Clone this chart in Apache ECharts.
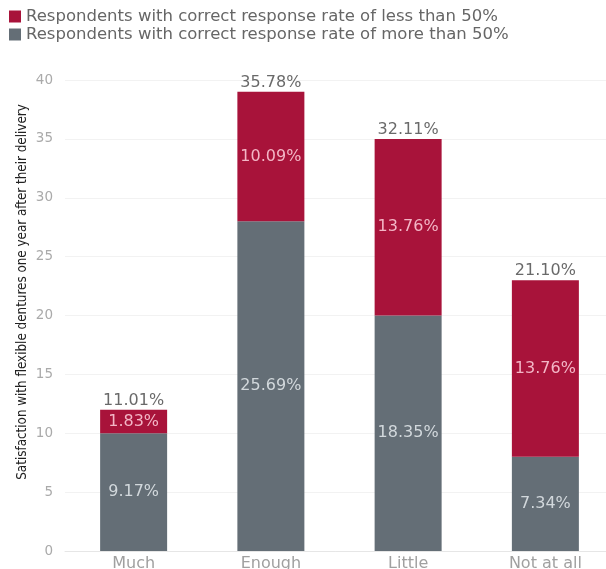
<!DOCTYPE html>
<html>
<head>
<meta charset="utf-8">
<script src="https://cdn.jsdelivr.net/npm/echarts@6/dist/echarts.min.js"></script>
<style>html,body{margin:0;padding:0;background:#fff}#c{width:606px;height:569px}</style>
</head>
<body>
<div id="c"></div>
<script>
const categories = ['Much', 'Enough', 'Little', 'Not at all'];
const lowCounts = [2, 11, 15, 15];
const highCounts = [10, 28, 20, 8];
const lowPct = ['1.83%', '10.09%', '13.76%', '13.76%'];
const highPct = ['9.17%', '25.69%', '18.35%', '7.34%'];
const totalPct = ['11.01%', '35.78%', '32.11%', '21.10%'];
const yTicks = [0, 5, 10, 15, 20, 25, 30, 35, 40];
const seriesNames = ['Respondents with correct response rate of less than 50%', 'Respondents with correct response rate of more than 50%'];
const yTitle = 'Satisfaction with flexible dentures one year after their delivery';

const totals = lowCounts.map((v, i) => v + highCounts[i]);
const font = 'DejaVu Sans';
const lblSize = 16;
const chart = echarts.init(document.getElementById('c'));
chart.setOption({
  animation: false,
  legend: {
    data: [seriesNames[0], seriesNames[1]],
    orient: 'vertical', left: 4, top: 3, itemGap: 1,
    itemWidth: 12, itemHeight: 12, icon: 'rect',
    textStyle: { fontFamily: font, fontSize: 16.5, color: '#666' }
  },
  graphic: [{
    type: 'text', x: 23, y: 292, rotation: Math.PI / 2,
    style: { text: yTitle, fontFamily: 'DejaVu Sans Condensed', fontSize: 13.3, fill: '#222',
      textAlign: 'center', textVerticalAlign: 'middle' }
  }],
  grid: { left: 65, width: 549, top: 80, bottom: 18, containLabel: false, outerBoundsMode: 'none' },
  xAxis: {
    type: 'category', data: categories,
    axisLine: { lineStyle: { color: '#e6e6e6' } },
    axisTick: { show: false },
    axisLabel: { fontFamily: font, fontSize: 16, color: '#a0a0a0', margin: 5 }
  },
  yAxis: {
    type: 'value', min: yTicks[0], max: yTicks[yTicks.length - 1], interval: 5,
    axisLine: { show: false }, axisTick: { show: false },
    axisLabel: { fontFamily: font, fontSize: 13.5, color: '#aaa', margin: 12 },
    splitLine: { lineStyle: { color: '#f2f2f2' } }
  },
  series: [
    {
      name: seriesNames[1], type: 'bar', stack: 's', barWidth: 67,
      data: highCounts, itemStyle: { color: '#646E76' },
      label: { show: true, position: 'inside', fontFamily: font, fontSize: lblSize, color: '#d2d8dc',
        formatter: p => highPct[p.dataIndex] }
    },
    {
      name: seriesNames[0], type: 'bar', stack: 's', barWidth: 67,
      data: lowCounts, itemStyle: { color: '#A8133A' },
      label: { show: true, position: 'inside', fontFamily: font, fontSize: lblSize, color: '#f3b6c6',
        formatter: p => lowPct[p.dataIndex] }
    },
    {
      name: 'total', type: 'scatter', data: totals, symbolSize: 0, silent: true,
      label: { show: true, position: 'top', distance: 1, fontFamily: font, fontSize: lblSize, color: '#444',
        formatter: p => totalPct[p.dataIndex] }
    }
  ]
});
</script>
</body>
</html>
